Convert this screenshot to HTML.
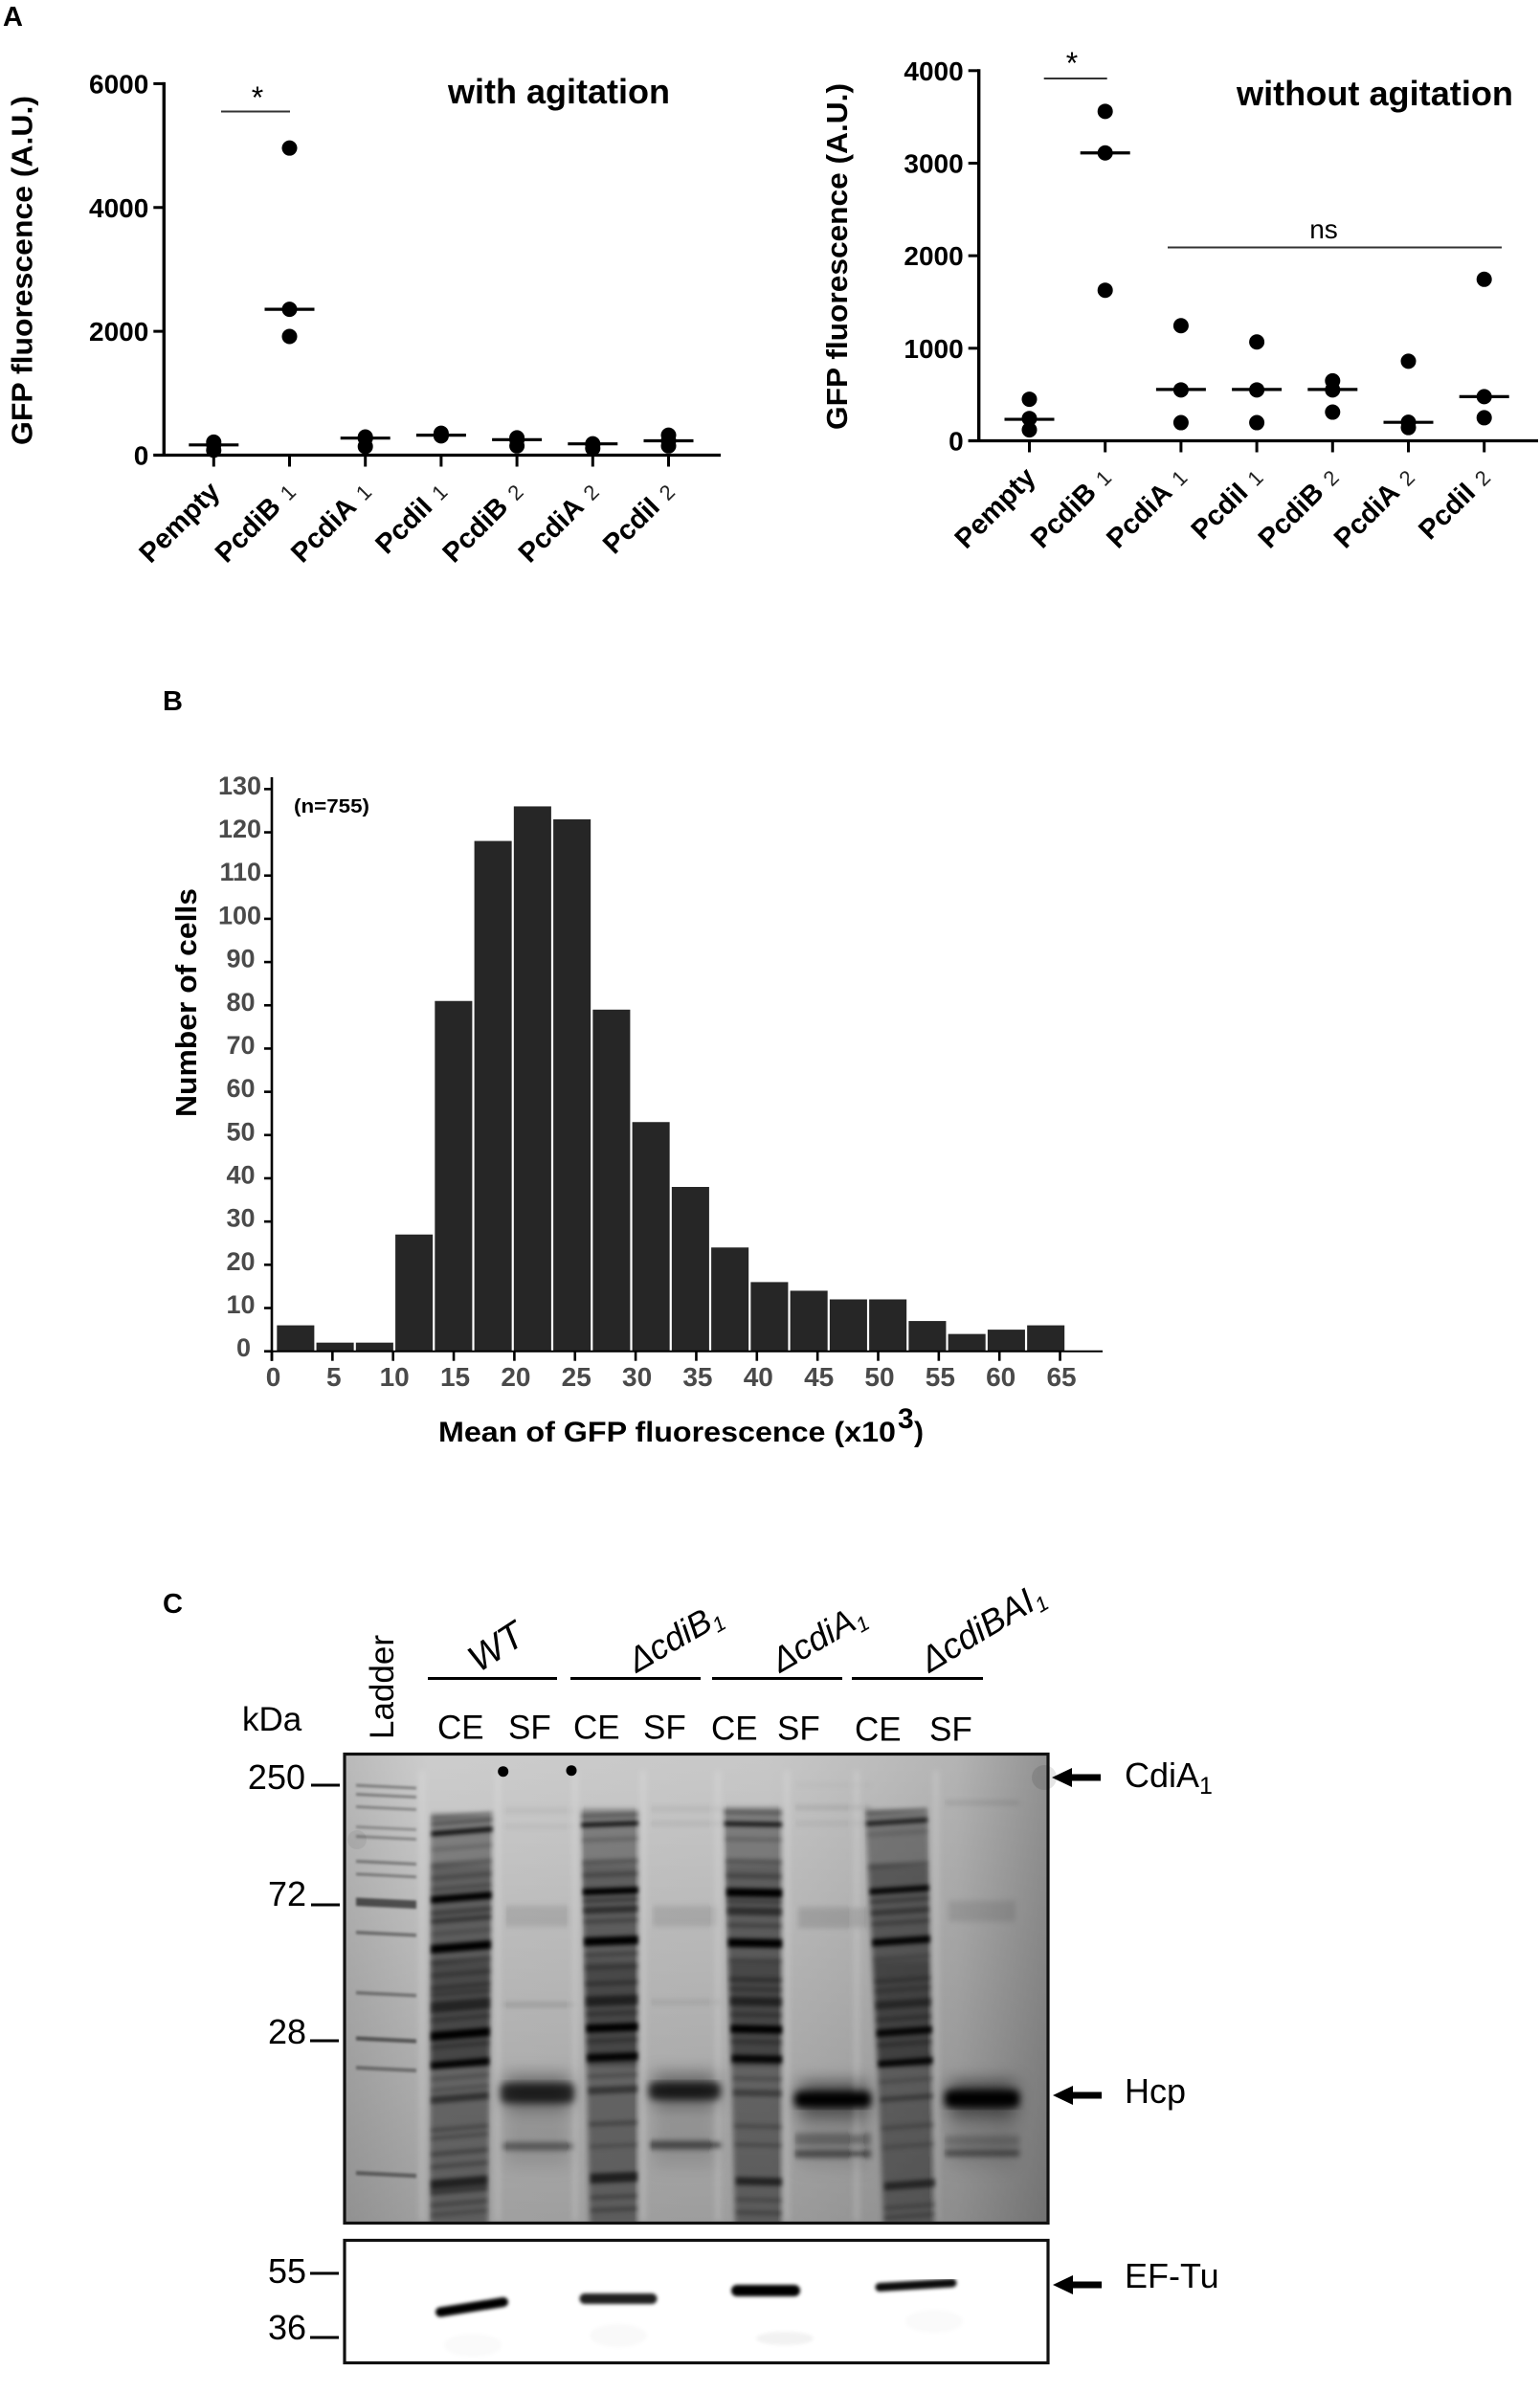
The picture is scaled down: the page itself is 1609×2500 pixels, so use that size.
<!DOCTYPE html>
<html lang="en">
<head>
<meta charset="utf-8">
<title>GFP fluorescence figure</title>
<style>
html,body{margin:0;padding:0;background:#fff;}
svg{display:block;font-family:"Liberation Sans",Arial,sans-serif;}
.panel-label{font-size:29px;font-weight:bold;fill:#000;}
.gel-text{font-size:35px;fill:#000;}
.axis-title{font-size:31px;font-weight:bold;fill:#000;}
</style>
</head>
<body>
<svg id="figure" xmlns="http://www.w3.org/2000/svg" width="1609" height="2500" viewBox="0 0 1609 2500">
  <defs>
    <filter id="blur-ladder" x="-10%" y="-10%" width="120%" height="120%"><feGaussianBlur stdDeviation="1.4"/></filter>
    <filter id="blur-sharp" x="-10%" y="-10%" width="120%" height="120%"><feGaussianBlur stdDeviation="2"/></filter>
    <filter id="blur-soft" x="-10%" y="-10%" width="120%" height="120%"><feGaussianBlur stdDeviation="3"/></filter>
    <filter id="blur-hcp" x="-10%" y="-10%" width="120%" height="120%"><feGaussianBlur stdDeviation="4"/></filter>
    <filter id="blur-wide" x="-20%" y="-20%" width="140%" height="140%"><feGaussianBlur stdDeviation="9"/></filter>
    <filter id="blur-blot" x="-5%" y="-5%" width="110%" height="110%"><feGaussianBlur stdDeviation="1.8"/></filter>
    <linearGradient id="gel-horizontal" x1="0" y1="0" x2="1" y2="0">
      <stop offset="0" stop-color="#b9b9b9"/>
      <stop offset="0.12" stop-color="#cdcdcd"/>
      <stop offset="0.6" stop-color="#c8c8c8"/>
      <stop offset="0.87" stop-color="#b4b4b4"/>
      <stop offset="1" stop-color="#929292"/>
    </linearGradient>
    <linearGradient id="gel-vertical" x1="0" y1="0" x2="0" y2="1">
      <stop offset="0" stop-color="#000" stop-opacity="0"/>
      <stop offset="1" stop-color="#000" stop-opacity="0.22"/>
    </linearGradient>
    <clipPath id="gel-clip"><rect x="360" y="1832" width="735" height="491"/></clipPath>
    <clipPath id="blot-clip"><rect x="361" y="2342" width="733" height="126"/></clipPath>
  </defs>

  <text class="panel-label" x="3" y="27">A</text>
  <text class="panel-label" x="170" y="742">B</text>
  <text class="panel-label" x="170" y="1685">C</text>

  <g id="panel-a-left">
    <text x="468" y="108" font-size="36" font-weight="bold" textLength="232" lengthAdjust="spacingAndGlyphs">with agitation</text>
    <text class="axis-title" transform="translate(33.5,465) rotate(-90)" textLength="365" lengthAdjust="spacingAndGlyphs">GFP fluorescence (A.U.)</text>
    <line x1="231" y1="116.5" x2="303" y2="116.5" stroke="#333" stroke-width="2"/>
    <text x="269" y="113" font-size="32" text-anchor="middle">*</text>
  </g>

  <g id="panel-a-right">
    <text x="1292" y="110" font-size="36" font-weight="bold" textLength="289" lengthAdjust="spacingAndGlyphs">without agitation</text>
    <text class="axis-title" transform="translate(885,449) rotate(-90)" textLength="362" lengthAdjust="spacingAndGlyphs">GFP fluorescence (A.U.)</text>
    <line x1="1090.7" y1="82" x2="1156.7" y2="82" stroke="#333" stroke-width="2"/>
    <text x="1120" y="77" font-size="32" text-anchor="middle">*</text>
    <line x1="1220" y1="258.5" x2="1569" y2="258.5" stroke="#333" stroke-width="2"/>
    <text x="1383" y="249" font-size="28" text-anchor="middle">ns</text>
  </g>

  <g id="panel-b">
    <text x="307" y="849" font-size="20.5" font-weight="bold" textLength="79" lengthAdjust="spacingAndGlyphs">(n=755)</text>
    <text class="axis-title" transform="translate(205,1167) rotate(-90)" textLength="239" lengthAdjust="spacingAndGlyphs">Number of cells</text>
    <text x="458" y="1506" font-size="30" font-weight="bold" textLength="478" lengthAdjust="spacingAndGlyphs">Mean of GFP fluorescence (x10</text>
    <text x="938" y="1492" font-size="30" font-weight="bold">3</text>
    <text x="955" y="1506" font-size="30" font-weight="bold">)</text>
  </g>

  <g id="panel-c">
    <rect x="360" y="1832" width="735" height="491" fill="url(#gel-horizontal)"/>
    <rect x="360" y="1832" width="735" height="491" fill="url(#gel-vertical)"/>
    <g id="gel-wide" clip-path="url(#gel-clip)" filter="url(#blur-wide)"></g>
    <g id="gel-soft" clip-path="url(#gel-clip)" filter="url(#blur-soft)"></g>
    <g id="gel-hcp" clip-path="url(#gel-clip)" filter="url(#blur-hcp)"></g>
    <g id="gel-ladder" clip-path="url(#gel-clip)" filter="url(#blur-ladder)"></g>
    <g id="gel-sharp" clip-path="url(#gel-clip)" filter="url(#blur-sharp)"></g>
    <circle cx="525.7" cy="1850.7" r="5.5" fill="#000"/>
    <circle cx="597" cy="1849.7" r="5.5" fill="#000"/>
    <circle cx="373" cy="1922" r="10" fill="#000" opacity="0.06"/>
    <circle cx="1091" cy="1857" r="13" fill="#000" opacity="0.1"/>
    <rect x="360" y="1832.5" width="735" height="490" fill="none" stroke="#111" stroke-width="3.2"/>

    <rect x="360" y="2340.5" width="735" height="128" fill="#fff"/>
    <g clip-path="url(#blot-clip)">
      <rect x="361" y="2342" width="733" height="126" fill="#fff" opacity="0"/>
      <g id="blot-bands" filter="url(#blur-blot)"></g>
    </g>
    <rect x="360" y="2340.5" width="735" height="128" fill="none" stroke="#111" stroke-width="3.2"/>

    <text class="gel-text" x="253" y="1808">kDa</text>
    <text class="gel-text" transform="translate(411,1817) rotate(-90)">Ladder</text>

    <line x1="447" y1="1753.5" x2="582" y2="1753.5" stroke="#000" stroke-width="3"/>
    <line x1="596" y1="1753.5" x2="732" y2="1753.5" stroke="#000" stroke-width="3"/>
    <line x1="744" y1="1753.5" x2="880" y2="1753.5" stroke="#000" stroke-width="3"/>
    <line x1="890" y1="1753.5" x2="1027" y2="1753.5" stroke="#000" stroke-width="3"/>

    <text class="gel-text" font-style="italic" style="font-size:39px" transform="translate(500,1748) rotate(-33)">WT</text>
    <text class="gel-text" font-style="italic" style="font-size:36px" transform="translate(665,1748) rotate(-30)">ΔcdiB<tspan font-size="22" dy="6">1</tspan></text>
    <text class="gel-text" font-style="italic" style="font-size:36px" transform="translate(815,1748) rotate(-30)">ΔcdiA<tspan font-size="22" dy="6">1</tspan></text>
    <text class="gel-text" font-style="italic" style="font-size:37px" transform="translate(971,1748) rotate(-31)">ΔcdiBAI<tspan font-size="22" dy="6">1</tspan></text>

    <text class="gel-text" x="457" y="1816.5">CE</text>
    <text class="gel-text" x="531" y="1816.5">SF</text>
    <text class="gel-text" x="599" y="1816.5">CE</text>
    <text class="gel-text" x="672" y="1816.5">SF</text>
    <text class="gel-text" x="743" y="1817.5">CE</text>
    <text class="gel-text" x="812" y="1817.5">SF</text>
    <text class="gel-text" x="893" y="1818.5">CE</text>
    <text class="gel-text" x="971" y="1818.5">SF</text>

    <text class="gel-text" style="font-size:36px" x="319" y="1869" text-anchor="end">250</text>
    <line x1="325" y1="1865" x2="355" y2="1865" stroke="#000" stroke-width="3"/>
    <text class="gel-text" style="font-size:36px" x="320" y="1991" text-anchor="end">72</text>
    <line x1="325" y1="1990" x2="355" y2="1990" stroke="#000" stroke-width="3"/>
    <text class="gel-text" style="font-size:36px" x="320" y="2135" text-anchor="end">28</text>
    <line x1="324" y1="2132" x2="354" y2="2132" stroke="#000" stroke-width="3"/>
    <text class="gel-text" style="font-size:36px" x="320" y="2385" text-anchor="end">55</text>
    <line x1="324" y1="2375" x2="354" y2="2375" stroke="#000" stroke-width="3"/>
    <text class="gel-text" style="font-size:36px" x="320" y="2444" text-anchor="end">36</text>
    <line x1="324" y1="2442" x2="354" y2="2442" stroke="#000" stroke-width="3"/>

    <polygon points="1099,1857 1120,1847 1120,1853.5 1150,1853.5 1150,1860.5 1120,1860.5 1120,1867" fill="#000"/>
    <text class="gel-text" x="1175" y="1867" style="font-size:36px">CdiA<tspan font-size="25" dy="7">1</tspan></text>
    <polygon points="1100,2189 1121,2179 1121,2185.5 1151,2185.5 1151,2192.5 1121,2192.5 1121,2199" fill="#000"/>
    <text class="gel-text" x="1175" y="2197" style="font-size:36px">Hcp</text>
    <polygon points="1100,2387 1121,2377 1121,2383.5 1151,2383.5 1151,2390.5 1121,2390.5 1121,2397" fill="#000"/>
    <text class="gel-text" x="1175" y="2390" style="font-size:36px">EF-Tu</text>
  </g>
</svg>

<script>
// ---------- Panel A data ----------
const strains = ["Pempty", "PcdiB", "PcdiA", "PcdiI", "PcdiB", "PcdiA", "PcdiI"];
const strainSubscripts = ["", "1", "1", "1", "2", "2", "2"];
const withAgitationPoints = [[210, 170, 80], [4960, 2356, 1917], [293, 275, 140], [354, 323, 311], [280, 250, 150], [170, 183, 110], [323, 232, 150]];
const withAgitationMedians = [165, 2356, 275, 323, 250, 183, 232];
const withAgitationTicks = [0, 2000, 4000, 6000];
const withoutAgitationPoints = [[449, 241, 118], [3560, 3111, 1627], [1244, 550, 196], [1068, 550, 196], [648, 550, 310], [860, 200, 143], [1745, 477, 249]];
const withoutAgitationMedians = [232, 3111, 555, 555, 555, 200, 477];
const withoutAgitationTicks = [0, 1000, 2000, 3000, 4000];

// ---------- Panel B data ----------
const histogramCounts = [6, 2, 2, 27, 81, 118, 126, 123, 79, 53, 38, 24, 16, 14, 12, 12, 7, 4, 5, 6];
const histogramBinWidth = 3.256;
const histogramFirstBin = 0.42;
const histogramYTicks = [0, 10, 20, 30, 40, 50, 60, 70, 80, 90, 100, 110, 120, 130];
const histogramXTicks = [0, 5, 10, 15, 20, 25, 30, 35, 40, 45, 50, 55, 60, 65];

const SVGNS = "http://www.w3.org/2000/svg";

function make(tag, attrs, parent, text) {
  const node = document.createElementNS(SVGNS, tag);
  for (const key in attrs) node.setAttribute(key, attrs[key]);
  if (text !== undefined) node.textContent = text;
  parent.appendChild(node);
  return node;
}

function drawDotPanel(parent, prefix, points, medians, ticks, layout) {
  const yScale = v => layout.y0 - v * (layout.y0 - layout.yTop) / layout.yMax;
  const xScale = i => layout.x0 + i * layout.pitch;

  const yAxis = make("line", {x1: layout.axisX, y1: layout.yTop - 1.5, x2: layout.axisX, y2: layout.y0 + 1.5, stroke: "#000", "stroke-width": 3.4}, parent);
  
  
  const xAxis = make("line", {x1: layout.axisX - 11, y1: layout.y0, x2: layout.xEnd, y2: layout.y0, stroke: "#000", "stroke-width": 3.2}, parent);
  
  

  ticks.forEach(t => {
    const y = yScale(t);
    const tick = make("line", {x1: layout.axisX - 11, y1: y, x2: layout.axisX, y2: y, stroke: "#000", "stroke-width": 3}, parent);
    
    
    const label = make("text", {x: layout.axisX - 16, y: y + 10, "font-size": 28, "font-weight": "bold", "text-anchor": "end"}, parent, String(t));
    
    
  });

  strains.forEach((name, i) => {
    const x = xScale(i);
    const tick = make("line", {x1: x, y1: layout.y0, x2: x, y2: layout.y0 + 12, stroke: "#000", "stroke-width": 3}, parent);
    
    

    const label = make("text", {transform: "translate(" + (x + layout.labelDx) + "," + (layout.y0 + layout.labelDy) + ") rotate(-45)", "text-anchor": "end", "font-size": 29, "font-weight": "bold"}, parent);
    
    
    const main = make("tspan", {}, label, name);
    
    
    if (strainSubscripts[i]) {
      const digit = make("tspan", {dx: 10, "font-size": 22, "font-weight": "normal", fill: "#222"}, label, strainSubscripts[i]);
      
      
    }

    points[i].forEach(v => {
      const dot = make("circle", {cx: x, cy: yScale(v), r: 8, fill: "#000"}, parent);
      
      
    });
    const median = make("line", {x1: x - 26, y1: yScale(medians[i]), x2: x + 26, y2: yScale(medians[i]), stroke: "#000", "stroke-width": 3.2}, parent);
    
    
  });
}

drawDotPanel(document.getElementById("panel-a-left"), "left", withAgitationPoints, withAgitationMedians, withAgitationTicks,
  {axisX: 171.3, x0: 223.3, pitch: 79.2, y0: 475.5, yTop: 87.4, yMax: 6000, xEnd: 753, labelDx: 8, labelDy: 40});
drawDotPanel(document.getElementById("panel-a-right"), "right", withoutAgitationPoints, withoutAgitationMedians, withoutAgitationTicks,
  {axisX: 1022.7, x0: 1075.5, pitch: 79.2, y0: 460.5, yTop: 73.8, yMax: 4000, xEnd: 1607, labelDx: 8, labelDy: 40});

// ---------- Panel B drawing ----------
(function () {
  const parent = document.getElementById("panel-b");
  const x0 = 284, y0 = 1411.7;
  const xScale = v => x0 + v * 12.67;
  const yScale = v => y0 - v * 4.518;
  const yLabelRight = {1: 262, 2: 266.5, 3: 273};

  histogramCounts.forEach((count, i) => {
    const start = histogramFirstBin + i * histogramBinWidth;
    const left = xScale(start);
    const right = xScale(start + histogramBinWidth);
    const bar = make("rect", {x: left, y: yScale(count), width: right - left - 2.2, height: y0 - yScale(count), fill: "#262626"}, parent);
    
    
  });

  const yAxis = make("line", {x1: x0, y1: 812, x2: x0, y2: y0 + 10, stroke: "#000", "stroke-width": 2.6}, parent);
  
  
  const xAxis = make("line", {x1: x0 - 8, y1: y0, x2: 1152, y2: y0, stroke: "#000", "stroke-width": 2}, parent);
  
  

  histogramYTicks.forEach(t => {
    const y = yScale(t);
    const tick = make("line", {x1: x0 - 8, y1: y, x2: x0, y2: y, stroke: "#000", "stroke-width": 2.6}, parent);
    
    
    const text = String(t);
    const label = make("text", {x: yLabelRight[text.length], y: y + 5.5, "font-size": 27, "font-weight": "bold", fill: "#4a4a4a", "text-anchor": "end"}, parent, text);
    
    
  });

  histogramXTicks.forEach(t => {
    const x = xScale(t);
    const tick = make("line", {x1: x, y1: y0, x2: x, y2: y0 + 10, stroke: "#000", "stroke-width": 2.6}, parent);
    
    
    const label = make("text", {x: x + 1.5, y: 1448, "font-size": 28, "font-weight": "bold", fill: "#4a4a4a", "text-anchor": "middle"}, parent, String(t));
    
    
  });
})();

// ---------- Panel C gel image: lanes and bands, y in crop units (3 per px from y=1815) ----------
const gelY = v => 1815 + v / 3;

const ladderLane = {x1: 372, x2: 435, tilt: 1.5};
const ladderBands = [[155, .34, 9], [183, .34, 9], [222, .3, 9], [285, .26, 9], [315, .3, 9], [393, .34, 10], [433, .34, 9], [520, .58, 26], [616, .4, 11], [805, .36, 11], [948, .5, 13], [1040, .36, 12], [1370, .42, 13]];

const ceLanes = [
  {name: "wt", x1Top: 450, x2Top: 517, x1Bot: 449, x2Bot: 510, tilt: -2.5, bodyTop: 240,
   bands: [[245, .25, 10], [265, .38, 8], [295, .9, 12], [345, .16, 10], [395, .25, 14], [435, .25, 10], [470, .25, 8], [502, 1, 20], [545, .35, 12], [570, .45, 12], [610, .2, 8], [657, 1, 24], [700, .28, 12], [740, .28, 10], [780, .32, 10], [800, .28, 8], [840, .5, 30], [880, .28, 10], [930, 1, 24], [965, .28, 10], [1022, .95, 20], [1065, .2, 10], [1100, .2, 10], [1130, .5, 20], [1225, .28, 10], [1250, .28, 8], [1300, .32, 10], [1340, .28, 10], [1395, .65, 26], [1420, .45, 12], [1460, .28, 10], [1490, .22, 10]]},
  {name: "cdib", x1Top: 604, x2Top: 668, x1Bot: 616, x2Bot: 667, tilt: -1, bodyTop: 225,
   bands: [[245, .28, 9], [272, .88, 11], [320, .18, 10], [390, .28, 14], [430, .28, 10], [482, 1, 18], [510, .4, 10], [540, .5, 18], [575, .28, 10], [638, 1, 24], [680, .28, 10], [720, .28, 10], [770, .32, 10], [825, .55, 28], [865, .28, 10], [910, 1, 22], [950, .28, 10], [1002, .95, 22], [1060, .22, 10], [1105, .45, 20], [1210, .28, 12], [1280, .2, 10], [1380, .66, 28], [1440, .28, 10], [1480, .28, 10]]},
  {name: "cdia", x1Top: 753, x2Top: 818, x1Bot: 768, x2Bot: 818, tilt: 0.5, bodyTop: 220,
   bands: [[235, .28, 9], [272, .85, 11], [320, .18, 10], [390, .28, 14], [435, .28, 12], [487, 1, 24], [515, .36, 10], [545, .5, 22], [590, .28, 10], [645, 1, 24], [700, .22, 10], [760, .34, 12], [790, .28, 10], [828, .52, 24], [870, .28, 10], [915, 1, 22], [955, .28, 10], [1008, .92, 20], [1070, .22, 10], [1115, .36, 18], [1220, .22, 12], [1278, .25, 8], [1392, .62, 22], [1450, .22, 10], [1490, .25, 10]]},
  {name: "cdibai", x1Top: 900, x2Top: 968, x1Bot: 923, x2Bot: 978, tilt: -2, bodyTop: 228,
   bands: [[232, .28, 8], [265, .8, 10], [300, .14, 10], [400, .22, 12], [478, .92, 16], [510, .32, 10], [545, .38, 14], [580, .28, 10], [638, .95, 20], [690, .18, 10], [760, .25, 10], [790, .22, 10], [835, .42, 22], [880, .28, 10], [922, .9, 20], [960, .28, 10], [1018, .9, 18], [1075, .18, 10], [1130, .35, 14], [1220, .2, 12], [1280, .18, 10], [1402, .56, 22], [1470, .22, 10], [1500, .22, 10]]}
];
const ceBodySegments = [[0, 400, .36], [400, 700, .5], [700, 1030, .6], [1030, 1530, .42]];

const sfLanes = [
  {name: "wt", x1: 523, x2: 600, bands: [[230, .1, 6], [280, .08, 6], [838, .2, 7], [1282, .42, 22]], hcp: [1115, .72, 50], halo: .42, diffuse: [560, .1]},
  {name: "cdib", x1: 678, x2: 753, bands: [[225, .12, 6], [270, .12, 6], [830, .12, 7], [1278, .52, 24]], hcp: [1108, .76, 42], halo: .42, diffuse: [560, .1]},
  {name: "cdia", x1: 830, x2: 910, bands: [[150, .06, 3], [220, .16, 6], [270, .1, 6], [1260, .3, 36], [1305, .5, 22]], hcp: [1135, 1, 38], halo: .55, diffuse: [565, .12]},
  {name: "cdibai", x1: 987, x2: 1065, bands: [[205, .15, 6], [1265, .2, 30], [1303, .46, 18]], hcp: [1133, 1, 42], halo: .55, diffuse: [545, .1]}
];
const laneGaps = [441, 520, 601, 672, 750, 822, 895, 978];

const blotBands = [
  {name: "wt", x1: 460, x2: 526, yLeft: 2415.5, yRight: 2405, thick: 10, op: 1},
  {name: "cdib", x1: 611, x2: 681, yLeft: 2401.5, yRight: 2401.5, thick: 11, op: .88},
  {name: "cdia", x1: 770, x2: 830, yLeft: 2393, yRight: 2393, thick: 12, op: 1},
  {name: "cdibai", x1: 919, x2: 995, yLeft: 2389.5, yRight: 2385, thick: 9, op: .95}
];
const blotFaint = [[470, 2450, 24, .02], [622, 2440, 24, .025], [796, 2443, 14, .05], [952, 2425, 24, .02]];

(function () {
  const wide = document.getElementById("gel-wide");
  const soft = document.getElementById("gel-soft");
  const sharp = document.getElementById("gel-sharp");
  const hcpGroup = document.getElementById("gel-hcp");
  const ladder = document.getElementById("gel-ladder");
  const blot = document.getElementById("blot-bands");

  function bandShape(parent, x1, x2, y, h, op, tilt) {
    const t = tilt || 0;
    const pts = [[x1, y - h / 2 - t], [x2, y - h / 2 + t], [x2, y + h / 2 + t], [x1, y + h / 2 - t]];
    return make("polygon", {points: pts.map(p => p.join(",")).join(" "), fill: "#000", opacity: op}, parent);
  }

  laneGaps.forEach(x => {
    const streak = make("rect", {x: x - 3, y: 1850, width: 6, height: 470, fill: "#fff", opacity: .16}, soft);
    
    
  });

  ladderBands.forEach(b => {
    const band = bandShape(ladder, ladderLane.x1, ladderLane.x2, gelY(b[0]), b[2] / 3, b[1], ladderLane.tilt);
    
    
  });

  ceLanes.forEach(lane => {
    const laneAt = y => {
      const f = Math.min(1, y / 1400);
      return [lane.x1Top + (lane.x1Bot - lane.x1Top) * f, lane.x2Top + (lane.x2Bot - lane.x2Top) * f];
    };
    ceBodySegments.forEach(seg => {
      const start = Math.max(seg[0], lane.bodyTop);
      const a = laneAt(start), b = laneAt(seg[1]);
      const pts = [[a[0], gelY(start)], [a[1], gelY(start)], [b[1], gelY(seg[1])], [b[0], gelY(seg[1])]];
      const body = make("polygon", {points: pts.map(p => p.join(",")).join(" "), fill: "#000", opacity: seg[2]}, soft);
      
      
    });
    lane.bands.forEach(b => {
      const x = laneAt(b[0]);
      const band = bandShape(sharp, x[0] + 1, x[1] - 1, gelY(b[0]), b[2] / 3 + 1, b[1], lane.tilt);
      
      
    });
  });

  sfLanes.forEach(lane => {
    const haze = make("rect", {x: lane.x1 + 4, y: gelY(lane.hcp[0]) - 18, width: lane.x2 - lane.x1 - 8, height: 36, fill: "#000", opacity: lane.halo}, wide);
    
    
    const lower = make("rect", {x: lane.x1 + 4, y: gelY(1180), width: lane.x2 - lane.x1 - 8, height: 55, fill: "#000", opacity: .12}, wide);
    
    
    const diffuse = make("rect", {x: lane.x1 + 4, y: gelY(lane.diffuse[0]) - 11, width: lane.x2 - lane.x1 - 8, height: 22, fill: "#000", opacity: lane.diffuse[1]}, soft);
    
    
    lane.bands.forEach(b => {
      const band = bandShape(soft, lane.x1, lane.x2, gelY(b[0]), b[2] / 3 + 1, b[1], 0);
      
      
    });
    const hcp = make("rect", {x: lane.x1, y: gelY(lane.hcp[0]) - lane.hcp[2] / 6 - 2, width: lane.x2 - lane.x1, height: lane.hcp[2] / 3 + 4, rx: 6, fill: "#000", opacity: lane.hcp[1]}, hcpGroup);
    
    
  });

  blotBands.forEach(b => {
    const band = make("line", {x1: b.x1, y1: b.yLeft, x2: b.x2, y2: b.yRight, stroke: "#000", "stroke-width": b.thick, "stroke-linecap": "round", opacity: b.op}, blot);
    
    
  });
  blotFaint.forEach(f => {
    const smear = make("ellipse", {cx: f[0] + 24, cy: f[1], rx: 30, ry: f[2] / 2, fill: "#000", opacity: f[3]}, blot);
    
    
  });
})();
</script>
</body>
</html>
